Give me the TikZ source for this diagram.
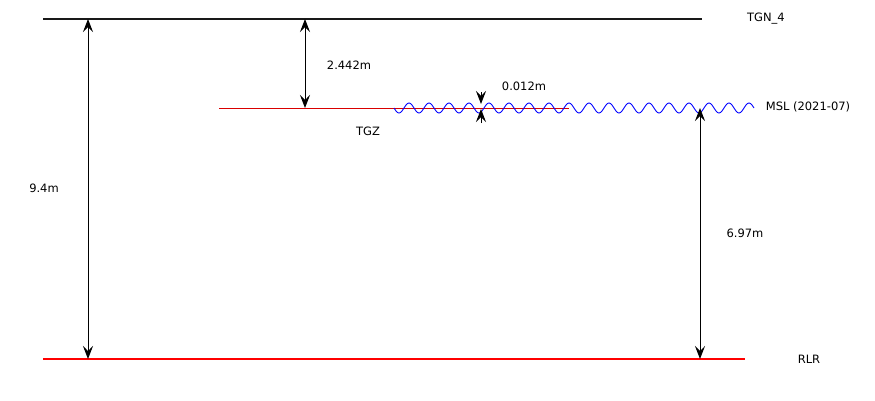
\documentclass[tikz,border=0pt]{standalone}
\usepackage{fontspec}
\setmainfont{DejaVu Sans}
\usetikzlibrary{arrows.meta}
\begin{document}
\begin{tikzpicture}[x=1pt,y=-1pt,
  lbl/.style={inner sep=0pt,font=\fontsize{11.5}{13}\selectfont},
  tip/.tip={Stealth[length=13pt,width=10pt,inset=5pt]},
  dim/.style={black,line width=1pt,tip-tip},
  single/.style={black,line width=1pt,-tip}]
\useasboundingbox (0,0) rectangle (875,400);
% levels
\coordinate (tgnL) at (43,19); \coordinate (tgnR) at (702,19);
\coordinate (tgzL) at (219,108); \coordinate (tgzR) at (569,108);
\coordinate (mslL) at (394,108); \coordinate (mslR) at (754,108);
\coordinate (rlrL) at (43,359); \coordinate (rlrR) at (745,359);
\draw[line width=2.4pt,black!90] (tgnL) -- (tgnR);
\draw[line width=1pt,red!85!black] (tgzL) -- (tgzR);
\draw[blue,line width=0.9pt] plot[domain=0:360,samples=400,smooth] (\x+394,{108+5*sin(\x*18)});
\draw[line width=2.4pt,red] (rlrL) -- (rlrR);
% dimension points
\coordinate (a1) at (88,19); \coordinate (a2) at (88,359);
\coordinate (b1) at (305,19); \coordinate (b2) at (305,108);
\coordinate (c1) at (700,108); \coordinate (c2) at (700,359);
\coordinate (d1) at (481,92); \coordinate (d2) at (481,104);
\coordinate (e1) at (481,123); \coordinate (e2) at (481,109);
\draw[dim] (a1) -- (a2);
\draw[dim] (b1) -- (b2);
\draw[dim] (c1) -- (c2);
\draw[single] (d1) -- (d2);
\draw[single] (e1) -- (e2);
% labels
\node[lbl] (tgn) at (766,19) {TGN\_4};
\node[lbl] (l2442) at (349,65) {2.442m};
\node[lbl] (l0012) at (524,86) {0.012m};
\node[lbl] (msl) at (808,107) {MSL (2021-07)};
\node[lbl] (tgz) at (368,131) {TGZ};
\node[lbl] (l94) at (44,188) {9.4m};
\node[lbl] (l697) at (745,233) {6.97m};
\node[lbl] (rlr) at (809,359) {RLR};
\end{tikzpicture}
\end{document}
